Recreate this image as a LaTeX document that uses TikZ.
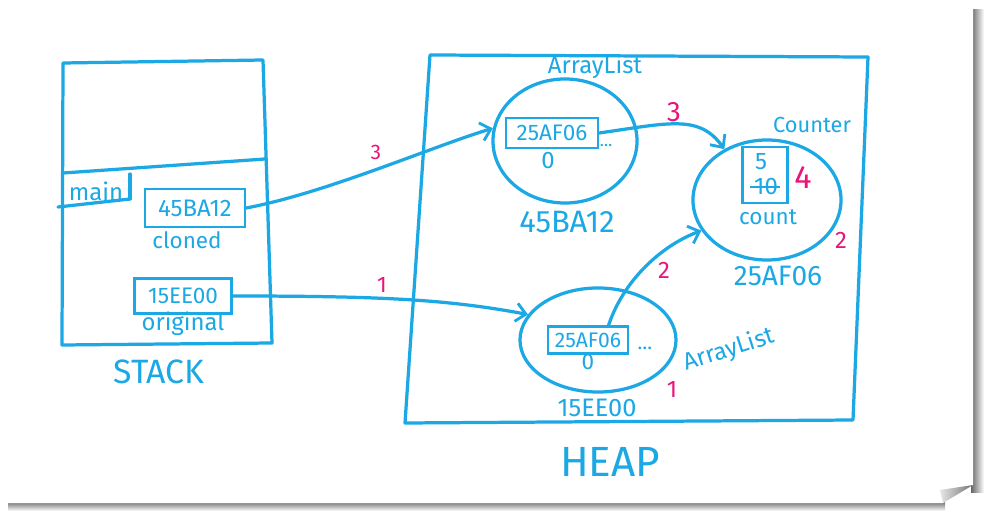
\documentclass[tikz,border=0pt]{standalone}
\usepackage{fontspec}
\setmainfont{Fira Sans}
\usetikzlibrary{%
  arrows.meta,%
  shapes.geometric,% wg. ellipse
  positioning,%
  calc%
}
\definecolor{inkblue}{RGB}{27,168,228}
\definecolor{inkpink}{RGB}{232,22,122}
\newcommand{\fs}[1]{\fontsize{#1}{#1}\selectfont}
\tikzset{
  ink/.style={draw=inkblue, line width=2.3pt, line cap=round, line join=round},
  cell/.style={draw=inkblue, line width=1.6pt, inner sep=0pt, text=inkblue},
  blob/.style={ellipse, draw=inkblue, line width=2.3pt, inner sep=0pt},
  lbl/.style={text=inkblue, inner sep=0pt},
  num/.style={text=inkpink, inner sep=0pt},
  ptr/.style={ink, -{Straight Barb[length=7pt,width=13pt,line width=2pt]}},
}

\begin{document}
\begin{tikzpicture}[x=0.025cm, y=-0.025cm]
\useasboundingbox (0,0) rectangle (988,518);

% paper
\shade[top color=black!60, bottom color=white] (8,501) rectangle (945,511);
\shade[left color=black!60, right color=white] (971,10) rectangle (984,492);
\fill[white] (0,0) -- (973,0) -- (973,485) -- (943,503) -- (0,503) -- cycle;
\shade[left color=black!10, right color=black!55] (940,490) -- (973,485) -- (943,503) -- cycle;

% stack
\draw[ink] (63,63) -- (263,60) -- (272,343) -- (62,345) -- cycle;
\draw[ink] (63,173) -- (265,159);
\draw[ink] (130,174) -- (130,199);
\draw[ink] (58,207) -- (130,199);
\node[lbl, font=\fs{17}] (mainlbl) at (96,191) {main};

\node[cell, minimum width=2.5cm, minimum height=0.95cm, font=\fs{17}] (clbox) at (195,208) {45BA12};
\node[lbl, font=\fs{16}] (cllbl) at (187,240) {cloned};
\node[cell, minimum width=2.425cm, minimum height=0.875cm, font=\fs{16}] (orbox) at (183,296) {15EE00};
\node[lbl, font=\fs{17}] (orlbl) at (183,324) {original};
\node[lbl, font=\fs{24}] (stacklbl) at (159,372) {STACK};

% heap
\draw[ink] (430,55) -- (868,57) -- (853,420) -- (405,423) -- cycle;
\node[lbl, font=\fs{30}] (heaplbl) at (610,462) {HEAP};

% first ArrayList
\node[blob, minimum width=3.6cm, minimum height=3.1cm] (al1) at (565,141) {};
\node[lbl, font=\fs{17}] (al1name) at (595,67) {ArrayList};
\node[cell, minimum width=2.3cm, minimum height=0.75cm, font=\fs{16}] (al1cell) at (552,133) {25AF06};
\node[lbl, font=\fs{17}] (al1idx) at (548,161) {0};
\node[lbl, font=\fs{12}] (al1dots) at (606,146) {\dots};
\node[lbl, font=\fs{22}] (al1addr) at (567,222) {45BA12};

% Counter
\node[blob, minimum width=3.7cm, minimum height=3.0cm] (ctr) at (767,200) {};
\node[lbl, font=\fs{15.5}] (ctrname) at (812,125) {Counter};
\node[cell, minimum width=1.125cm, minimum height=1.4cm] (ctrcell) at (765,175) {};
\node[lbl, font=\fs{17}] (oldval) at (761,162) {5};
\node[lbl, font=\fs{17}] (newval) at (766,187) {10};
\draw[inkblue, line width=1.4pt] ([xshift=-3pt]newval.west) -- ([xshift=1pt]newval.east);
\node[num, font=\fs{23}] (st4) at (803,178) {4};
\node[lbl, font=\fs{16}] (ctrfld) at (768,217) {count};
\node[lbl, font=\fs{20}] (ctraddr) at (778,276) {25AF06};
\node[num, font=\fs{17}] (st2b) at (841,240) {2};

% second ArrayList
\node[blob, minimum width=3.9cm, minimum height=2.6cm] (al2) at (598,340) {};
\node[cell, minimum width=2.0cm, minimum height=0.68cm, font=\fs{15}] (al2cell) at (588,340) {25AF06};
\node[lbl, font=\fs{16}] (al2idx) at (588,362) {0};
\node[lbl, font=\fs{14}] (al2dots) at (645,348) {\dots};
\node[lbl, font=\fs{17}, rotate=18] (al2name) at (729,350) {ArrayList};
\node[num, font=\fs{17}] (st1b) at (672,390) {1};
\node[lbl, font=\fs{18}] (al2addr) at (597,408) {15EE00};

% references
\draw[ptr] (clbox.east) .. controls +(80,-15) and +(-60,18) .. (al1.170);
\node[num, font=\fs{15}] (st3a) at (376,152) {3};
\draw[ptr] (orbox.east) .. controls +(150,0) and +(-80,-15) .. (al2.160);
\node[num, font=\fs{16}] (st1a) at (382,285) {1};
\draw[ptr] (al1cell.east) .. controls +(70,-10) and +(-25,-35) .. (ctr.130);
\node[num, font=\fs{20}] (st3b) at (674,112) {3};
\draw[ptr] ($(al2cell.north)!0.5!(al2cell.north east)$) .. controls +(15,-45) and +(-40,15) .. (ctr.205);
\node[num, font=\fs{17}] (st2a) at (664,270) {2};

\end{tikzpicture}
\end{document}
